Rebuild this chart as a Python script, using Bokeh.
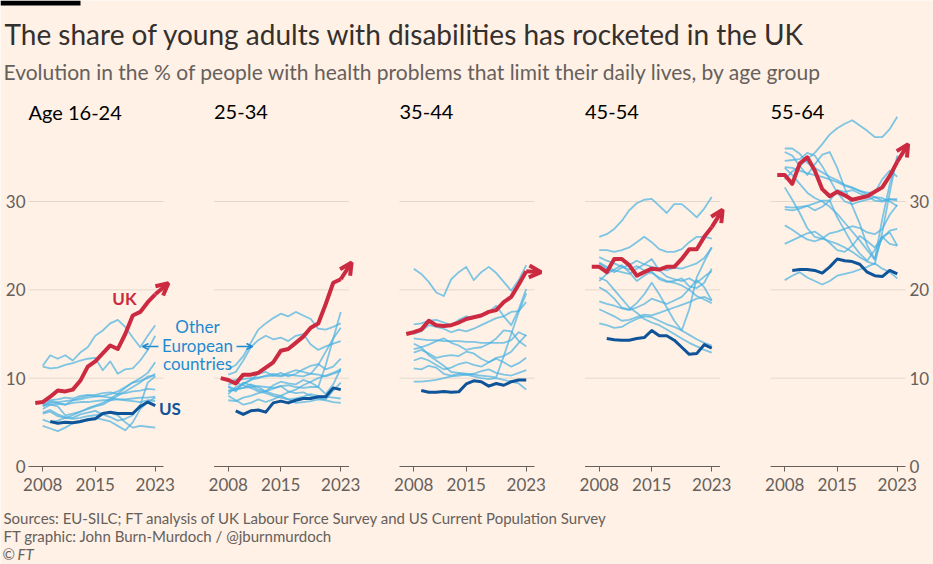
from bokeh.plotting import figure
from bokeh.models import (Range1d, FixedTicker, Label, Arrow, OpenHead, LinearAxis,
                          ColumnDataSource, BoxAnnotation, CustomJSTickFormatter)
from bokeh.transform import dodge
from bokeh.embed import file_html
from bokeh.resources import INLINE

# ---------------- data ----------------
age_groups = ["Age 16-24", "25-34", "35-44", "45-54", "55-64"]
x_tick_years = [2008, 2015, 2023]
y_ticks = [0, 10, 20, 30]
grid_values = [10, 20, 30]

uk_years = list(range(2007, 2024))
us_years = list(range(2009, 2024))
eu_years = list(range(2008, 2024))

uk_16_24 = [7.2, 7.3, 7.9, 8.6, 8.5, 8.7, 9.7, 11.3, 11.9, 12.8, 13.7, 13.3, 15.0, 17.1, 17.5, 18.6, 19.5]
uk_25_34 = [10.0, 9.8, 9.4, 10.4, 10.4, 10.6, 11.2, 11.8, 13.1, 13.3, 14.0, 14.7, 15.7, 16.2, 18.4, 20.8, 21.2]
uk_35_44 = [15.0, 15.2, 15.5, 16.5, 16.0, 15.9, 16.0, 16.3, 16.7, 16.9, 17.1, 17.5, 17.7, 18.6, 19.2, 20.6, 22.1]
uk_45_54 = [22.6, 22.6, 22.0, 23.5, 23.5, 22.8, 21.6, 22.0, 22.4, 22.3, 22.6, 22.6, 23.5, 24.6, 24.6, 26.0, 27.1]
uk_55_64 = [33.0, 33.0, 32.0, 34.3, 35.0, 33.5, 31.4, 30.6, 31.1, 30.7, 30.2, 30.4, 30.6, 31.1, 31.6, 32.9, 34.5]

# where the UK arrow heads point (year, value)
uk_arrow_year = [2024.76, 2024.45, 2024.98, 2024.45, 2024.45]
uk_arrow_value = [20.75, 23.1, 22.0, 29.06, 36.5]

us_16_24 = [5.1, 4.9, 5.0, 4.95, 5.1, 5.3, 5.4, 6.0, 6.15, 6.0, 6.0, 6.0, 6.8, 7.3, 6.9]
us_25_34 = [6.3, 5.9, 6.3, 6.4, 6.15, 7.2, 7.4, 7.2, 7.5, 7.7, 7.7, 7.9, 7.9, 8.9, 8.7]
us_35_44 = [8.6, 8.4, 8.4, 8.5, 8.4, 8.45, 9.35, 9.7, 9.6, 9.1, 9.4, 9.2, 9.6, 9.8, 9.8]
us_45_54 = [14.5, 14.35, 14.3, 14.3, 14.5, 14.6, 15.4, 14.8, 14.8, 14.3, 13.5, 12.7, 12.8, 13.8, 13.4]
us_55_64 = [22.2, 22.3, 22.3, 22.2, 21.9, 22.6, 23.5, 23.3, 23.2, 22.9, 22.0, 21.6, 21.5, 22.2, 21.8]

eu_16_24 = [
    [11.4, 12.6, 12.2, 12.6, 12.0, 12.9, 13.5, 14.8, 15.4, 16.2, 16.6, 15.8, 14.6, 13.5, 14.8, 16.0],
    [11.3, 11.1, 11.2, 11.5, 11.7, 12.0, 12.2, 12.3, 10.9, 11.9, 10.5, 11.0, 11.1, 12.0, 13.2, 14.8],
    [7.0, 7.2, 7.3, 7.4, 7.5, 7.6, 7.8, 7.9, 8.0, 8.2, 8.5, 9.0, 9.5, 10.0, 10.6, 11.8],
    [6.9, 7.0, 7.1, 7.0, 7.2, 7.3, 7.3, 7.4, 7.5, 7.5, 7.6, 7.6, 7.7, 7.8, 7.8, 7.9],
    [6.8, 7.4, 7.2, 7.0, 7.5, 7.8, 8.0, 8.1, 8.3, 8.4, 8.2, 8.3, 8.5, 8.6, 8.8, 8.7],
    [6.5, 7.0, 6.8, 5.8, 6.0, 6.2, 6.5, 6.8, 7.0, 7.5, 8.0, 8.5, 9.0, 9.5, 10.2, 10.3],
    [6.1, 6.4, 5.9, 5.6, 5.5, 5.9, 6.1, 6.3, 5.9, 5.6, 5.2, 5.4, 5.8, 7.0, 9.5, 10.2],
    [5.3, 5.0, 5.2, 5.5, 5.4, 5.5, 5.7, 5.8, 6.0, 6.1, 5.8, 5.0, 4.4, 4.6, 4.5, 4.4],
    [4.6, 4.3, 4.0, 4.4, 4.9, 5.0, 5.4, 5.5, 5.3, 5.1, 4.6, 4.1, 5.0, 6.5, 7.3, 7.8],
    [7.2, 7.5, 7.6, 7.8, 7.7, 8.0, 8.1, 8.0, 7.9, 7.8, 7.6, 7.5, 7.4, 7.3, 7.5, 7.4],
    [6.0, 6.2, 5.7, 5.5, 5.8, 6.2, 6.6, 6.9, 7.2, 7.7, 8.2, 8.9, 9.5, 9.7, 10.0, 10.5],
]
eu_25_34 = [
    [11.0, 11.5, 12.5, 14.0, 15.5, 16.2, 16.8, 17.3, 17.0, 17.5, 17.1, 16.7, 15.6, 15.5, 15.8, 16.2],
    [10.4, 10.7, 12.0, 13.5, 14.3, 14.8, 14.4, 14.6, 14.2, 14.8, 15.0, 13.8, 13.2, 13.6, 13.9, 14.2],
    [8.6, 8.8, 8.9, 9.0, 9.1, 9.0, 8.9, 9.1, 9.2, 9.0, 8.9, 9.0, 9.0, 11.5, 14.5, 17.5],
    [9.0, 8.5, 9.4, 9.8, 10.0, 10.3, 10.5, 10.3, 10.6, 10.9, 10.7, 10.5, 11.5, 13.0, 14.5, 15.7],
    [8.2, 9.0, 9.3, 9.8, 10.5, 10.7, 10.3, 10.6, 10.2, 10.5, 11.0, 11.4, 11.6, 11.0, 11.3, 12.2],
    [9.6, 9.8, 9.9, 10.0, 10.1, 10.2, 10.3, 10.2, 10.4, 10.3, 10.2, 10.5, 10.4, 10.2, 10.5, 10.8],
    [8.5, 8.7, 8.9, 9.3, 9.0, 8.5, 9.2, 9.6, 9.4, 9.3, 9.8, 9.5, 9.0, 8.2, 9.3, 11.1],
    [7.5, 7.4, 7.8, 8.0, 8.3, 8.5, 8.2, 8.0, 8.4, 8.7, 9.2, 9.6, 10.0, 10.3, 10.6, 11.0],
    [8.0, 7.5, 7.0, 7.2, 7.6, 7.3, 7.6, 8.0, 7.6, 7.2, 7.3, 7.4, 7.6, 7.5, 7.3, 7.2],
    [9.1, 8.7, 9.5, 9.2, 8.7, 8.5, 8.8, 9.1, 8.5, 8.3, 8.4, 8.0, 7.7, 7.6, 8.6, 9.5],
    [9.3, 9.5, 9.2, 8.9, 8.5, 8.3, 8.0, 7.8, 7.6, 7.7, 7.9, 8.2, 8.0, 7.9, 7.8, 7.7],
]
eu_35_44 = [
    [22.4, 21.8, 20.9, 19.7, 19.3, 21.2, 22.0, 22.6, 21.1, 22.0, 22.6, 21.9, 20.9, 19.9, 21.1, 22.8],
    [16.1, 16.2, 16.5, 16.6, 16.3, 16.0, 16.6, 17.0, 16.8, 17.2, 17.5, 18.2, 17.0, 16.0, 17.8, 20.1],
    [15.0, 15.3, 16.0, 15.8, 15.6, 15.2, 15.5, 15.3, 15.6, 16.0, 16.4, 16.8, 17.0, 17.5, 17.6, 18.6],
    [14.5, 14.4, 14.3, 14.3, 14.2, 14.2, 14.2, 14.1, 14.1, 14.0, 14.0, 14.0, 14.0, 14.3, 15.2, 14.8],
    [13.9, 13.5, 12.6, 12.0, 11.4, 10.7, 10.6, 10.5, 10.4, 10.3, 10.2, 10.1, 12.5, 15.0, 17.5, 19.6],
    [13.3, 13.5, 13.8, 14.2, 14.5, 14.0, 13.7, 13.2, 13.4, 13.5, 13.9, 14.5, 15.4, 15.3, 14.2, 13.6],
    [12.9, 13.2, 12.8, 12.3, 12.5, 12.6, 12.5, 13.0, 12.8, 12.2, 11.8, 12.3, 12.5, 13.0, 14.0, 14.9],
    [12.0, 12.3, 12.0, 11.5, 11.0, 11.2, 11.6, 11.8, 11.5, 11.3, 11.8, 12.2, 11.8, 11.3, 11.7, 12.3],
    [11.1, 11.0, 11.4, 11.2, 10.5, 10.3, 10.5, 10.4, 10.5, 10.8, 11.0, 10.6, 10.4, 10.3, 10.6, 10.9],
    [9.6, 9.6, 9.7, 9.8, 10.0, 10.2, 10.3, 10.4, 10.2, 10.0, 9.9, 10.0, 9.8, 9.6, 9.4, 8.7],
]
eu_45_54 = [
    [26.0, 26.3, 26.9, 27.8, 29.0, 29.8, 30.2, 30.3, 29.5, 28.7, 29.7, 29.7, 29.0, 28.2, 29.2, 30.5],
    [24.5, 24.5, 24.3, 24.5, 24.8, 25.4, 26.0, 25.4, 24.6, 24.3, 24.3, 24.6, 25.4, 26.0, 26.0, 25.8],
    [23.0, 22.4, 22.0, 22.5, 22.8, 23.3, 22.9, 22.6, 22.4, 22.2, 22.5, 22.4, 22.7, 23.0, 23.6, 24.8],
    [23.1, 22.6, 22.2, 22.0, 21.8, 22.4, 22.9, 23.5, 22.2, 21.5, 21.2, 21.0, 21.3, 20.8, 21.5, 22.1],
    [21.0, 21.8, 22.3, 22.8, 22.0, 21.0, 21.6, 22.1, 21.2, 20.9, 21.0, 21.3, 20.4, 20.2, 20.8, 22.4],
    [21.4, 21.0, 20.0, 19.0, 18.0, 17.4, 16.7, 16.3, 16.0, 15.5, 15.0, 14.5, 14.0, 13.6, 13.2, 12.9],
    [20.3, 19.8, 19.0, 18.0, 17.8, 18.5, 19.5, 20.8, 19.5, 18.0, 16.5, 15.4, 17.8, 21.4, 23.2, 24.8],
    [18.7, 18.4, 18.2, 17.9, 17.7, 18.0, 18.4, 19.0, 18.7, 18.4, 18.8, 19.2, 20.1, 21.1, 20.3, 18.8],
    [17.8, 17.4, 17.0, 16.5, 16.6, 16.9, 17.2, 17.1, 17.4, 17.7, 18.0, 18.3, 18.6, 19.0, 19.2, 18.8],
    [16.2, 16.0, 15.7, 15.8, 16.3, 16.7, 17.0, 16.9, 16.5, 16.1, 15.8, 15.4, 14.9, 14.4, 14.0, 13.7],
    [23.7, 23.3, 23.0, 22.6, 22.3, 22.7, 22.2, 21.9, 21.4, 21.0, 20.8, 20.5, 20.0, 19.3, 18.9, 18.5],
]
eu_55_64 = [
    [32.5, 33.4, 34.0, 34.8, 35.5, 36.5, 37.6, 38.3, 38.8, 39.2, 38.6, 38.0, 37.3, 37.3, 38.2, 39.6],
    [36.0, 36.0, 35.4, 34.4, 33.8, 33.3, 32.8, 32.4, 31.9, 31.6, 31.2, 30.8, 30.5, 30.1, 30.3, 30.1],
    [35.6, 35.2, 34.0, 33.0, 34.2, 35.3, 35.6, 33.8, 31.5, 29.5, 27.5, 25.0, 23.5, 26.0, 26.5, 25.0],
    [34.6, 34.7, 34.8, 35.5, 35.2, 34.0, 32.5, 31.0, 30.0, 29.7, 30.0, 30.2, 30.5, 30.4, 30.0, 29.5],
    [33.9, 33.8, 33.5, 33.2, 33.0, 32.8, 32.5, 32.2, 31.8, 31.5, 31.2, 31.0, 31.0, 32.5, 33.5, 32.8],
    [31.6, 30.2, 28.7, 27.0, 26.0, 25.8, 25.5, 25.2, 24.8, 24.3, 23.7, 23.2, 22.9, 26.5, 31.0, 35.2],
    [29.4, 29.3, 29.4, 29.5, 29.8, 30.1, 30.1, 31.3, 31.1, 31.3, 30.9, 30.6, 30.1, 30.0, 30.2, 30.3],
    [29.1, 29.0, 29.2, 29.5, 29.0, 29.4, 30.1, 28.2, 26.7, 25.2, 24.1, 23.3, 24.5, 25.8, 26.7, 26.9],
    [27.3, 26.8, 26.2, 25.7, 25.5, 25.8, 26.4, 26.6, 26.9, 27.2, 27.0, 26.5, 26.3, 26.9, 28.5, 29.6],
    [25.2, 25.6, 26.0, 26.4, 26.6, 26.0, 25.3, 24.5, 24.3, 25.0, 26.1, 25.5, 24.8, 26.0, 25.2, 25.0],
    [21.1, 21.6, 22.0, 21.4, 21.0, 20.6, 21.0, 21.6, 21.8, 22.0, 22.3, 22.6, 23.0, 22.4, 22.0, 21.3],
    [33.8, 33.0, 32.0, 31.0, 30.4, 30.0, 29.4, 28.6, 27.6, 26.6, 25.6, 24.5, 23.4, 28.0, 32.0, 34.6],
]

uk_series = [uk_16_24, uk_25_34, uk_35_44, uk_45_54, uk_55_64]
us_series = [us_16_24, us_25_34, us_35_44, us_45_54, us_55_64]
eu_series = [eu_16_24, eu_25_34, eu_35_44, eu_45_54, eu_55_64]

TITLE = "The share of young adults with disabilities has rocketed in the UK"
SUBTITLE = "Evolution in the % of people with health problems that limit their daily lives, by age group"
SOURCES = "Sources: EU-SILC; FT analysis of UK Labour Force Survey and US Current Population Survey"
CREDIT = "FT graphic: John Burn-Murdoch / @jburnmurdoch"

# ---------------- styles / layout ----------------
BG = "#FFF1E5"
FONT = "Lato"
RED = "#CC2A41"
NAVY = "#0F5499"
LIGHT = "#47B0E2"
LABEL_BLUE = "#1E8BD0"
INK = "#33302E"
MUTED = "#66605C"
GRID = "#E4D8CD"

W, H = 933, 564
PANEL_LEFT = 28          # pixel column where the first panel starts
PANEL_RIGHT = 905        # pixel column where the last panel ends
ZERO_PX = 466            # pixel row of value 0
PX_YEAR = 7.5
PX_UNIT = 8.833
X0, X1 = 2006.1, 2024.1  # visible year span of each panel
PANEL_STEP = 185.5 / PX_YEAR
BASE_SHIFT = 0.42        # correction for text baseline placement (fraction of font size)


def px_x(ref_x):
    return X0 + (ref_x - PANEL_LEFT) / PX_YEAR


def px_y(ref_y):
    return (ZERO_PX - ref_y) / PX_UNIT


def base_y(ref_baseline, size):
    return px_y(ref_baseline - BASE_SHIFT * size)


p = figure(width=W, height=H, x_range=Range1d(px_x(0), px_x(W)), y_range=Range1d(px_y(H), px_y(0)),
           toolbar_location=None, output_backend="svg", min_border=0,
           background_fill_color=BG, border_fill_color=BG, outline_line_color=None)
p.grid.visible = False

# bottom axis: ticks and labels, fixed at value 0 (baselines are drawn per panel below)
tick_positions = [t + i * PANEL_STEP for i in range(len(age_groups)) for t in x_tick_years]
xa = p.xaxis[0]
xa.fixed_location = 0
xa.ticker = FixedTicker(ticks=tick_positions)
xa.formatter = CustomJSTickFormatter(args=dict(step=PANEL_STEP, x0=X0), code="""
    const k = Math.floor((tick - x0) / step);
    return String(Math.round(tick - k * step));
""")
xa.axis_line_color = None
xa.major_tick_line_color = MUTED
xa.major_tick_out = 5
xa.major_tick_in = 0
xa.minor_tick_line_color = None
xa.minor_tick_out = 0
xa.minor_tick_in = 0
xa.major_label_standoff = 6
xa.major_label_text_font = FONT
xa.major_label_text_font_size = "17px"
xa.major_label_text_color = MUTED

yl = p.yaxis[0]
yl.fixed_location = px_x(PANEL_LEFT)
yr = LinearAxis(fixed_location=px_x(PANEL_RIGHT))
p.add_layout(yr, "right")
for ax, standoff in ((yl, 3), (yr, 4)):
    ax.ticker = FixedTicker(ticks=y_ticks)
    ax.axis_line_color = None
    ax.major_tick_line_color = None
    ax.minor_tick_line_color = None
    ax.major_tick_out = 0
    ax.major_tick_in = 0
    ax.minor_tick_out = 0
    ax.minor_tick_in = 0
    ax.major_label_standoff = standoff
    ax.major_label_text_font = FONT
    ax.major_label_text_font_size = "17px"
    ax.major_label_text_color = MUTED

for i, name in enumerate(age_groups):
    off = i * PANEL_STEP
    p.segment(x0=[X0 + off] * len(grid_values), x1=[X1 + off] * len(grid_values),
              y0=grid_values, y1=grid_values, line_color=GRID, line_width=1)
    p.segment(x0=[X0 + off], x1=[X1 + off], y0=[0], y1=[0], line_color=MUTED, line_width=1)

    for vals in eu_series[i]:
        src = ColumnDataSource(dict(year=eu_years, val=vals))
        p.line(x=dodge("year", off, range=p.x_range), y="val", source=src,
               line_color=LIGHT, line_alpha=0.7, line_width=1.8, line_join="round")

    us_src = ColumnDataSource(dict(year=us_years, val=us_series[i]))
    p.line(x=dodge("year", off, range=p.x_range), y="val", source=us_src,
           line_color=NAVY, line_width=3, line_join="round")

    uk_src = ColumnDataSource(dict(year=uk_years, val=uk_series[i]))
    p.line(x=dodge("year", off, range=p.x_range), y="val", source=uk_src,
           line_color=RED, line_width=4, line_join="round")

    arr_src = ColumnDataSource(dict(xs=[uk_years[-1]], ys=[uk_series[i][-1]],
                                    xe=[uk_arrow_year[i]], ye=[uk_arrow_value[i]]))
    p.add_layout(Arrow(source=arr_src,
                       x_start=dodge("xs", off, range=p.x_range), y_start="ys",
                       x_end=dodge("xe", off, range=p.x_range), y_end="ye",
                       line_color=RED, line_width=4,
                       end=OpenHead(size=12, line_color=RED, line_width=4)))

    p.add_layout(Label(x=X0 + off, y=base_y(120, 20), text=name, text_font=FONT,
                       text_font_size="20px", text_color="#000000", text_baseline="alphabetic"))

# annotations in first panel
p.add_layout(Label(x=px_x(124), y=base_y(305, 17), text="UK", text_font=FONT, text_font_style="bold",
                   text_font_size="17px", text_color=RED, text_align="center",
                   text_baseline="alphabetic"))
p.add_layout(Label(x=px_x(158.5), y=base_y(415, 17), text="US", text_font=FONT, text_font_style="bold",
                   text_font_size="17px", text_color=NAVY, text_align="left",
                   text_baseline="alphabetic"))
for txt, base in (("Other", 332.7), ("European", 351.7), ("countries", 370)):
    p.add_layout(Label(x=px_x(197), y=base_y(base, 17), text=txt, text_font=FONT,
                       text_font_size="17px", text_color=LABEL_BLUE, text_align="center",
                       text_baseline="alphabetic"))
p.add_layout(Arrow(x_start=px_x(158), y_start=px_y(346), x_end=px_x(142), y_end=px_y(346),
                   line_color=LABEL_BLUE, line_width=1.5,
                   end=OpenHead(size=6, line_color=LABEL_BLUE, line_width=1.5)))
p.add_layout(Arrow(x_start=px_x(236), y_start=px_y(346), x_end=px_x(252), y_end=px_y(346),
                   line_color=LABEL_BLUE, line_width=1.5,
                   end=OpenHead(size=6, line_color=LABEL_BLUE, line_width=1.5)))

# header and footer
p.add_layout(BoxAnnotation(left=px_x(0), right=px_x(80), top=px_y(0), bottom=px_y(5),
                           fill_color="#000000", fill_alpha=1, line_color=None))
p.add_layout(Label(x=px_x(4), y=base_y(45, 28), text=TITLE, text_font=FONT, text_font_size="28px",
                   text_color=INK, text_baseline="alphabetic"))
p.add_layout(Label(x=px_x(3), y=base_y(80, 21), text=SUBTITLE, text_font=FONT, text_font_size="21px",
                   text_color=MUTED, text_baseline="alphabetic"))
for txt, base in ((SOURCES, 523.3), (CREDIT, 541.7)):
    p.add_layout(Label(x=px_x(3), y=base_y(base, 15), text=txt, text_font=FONT, text_font_size="15px",
                       text_color=MUTED, text_baseline="alphabetic"))
p.add_layout(Label(x=px_x(2), y=base_y(560, 15), text="©", text_font=FONT, text_font_size="15px",
                   text_color=MUTED, text_baseline="alphabetic"))
p.add_layout(Label(x=px_x(17), y=base_y(560, 15), text="FT", text_font=FONT, text_font_size="15px",
                   text_font_style="italic", text_color=MUTED, text_baseline="alphabetic"))

open("out.html", "w").write(file_html(p, INLINE))
